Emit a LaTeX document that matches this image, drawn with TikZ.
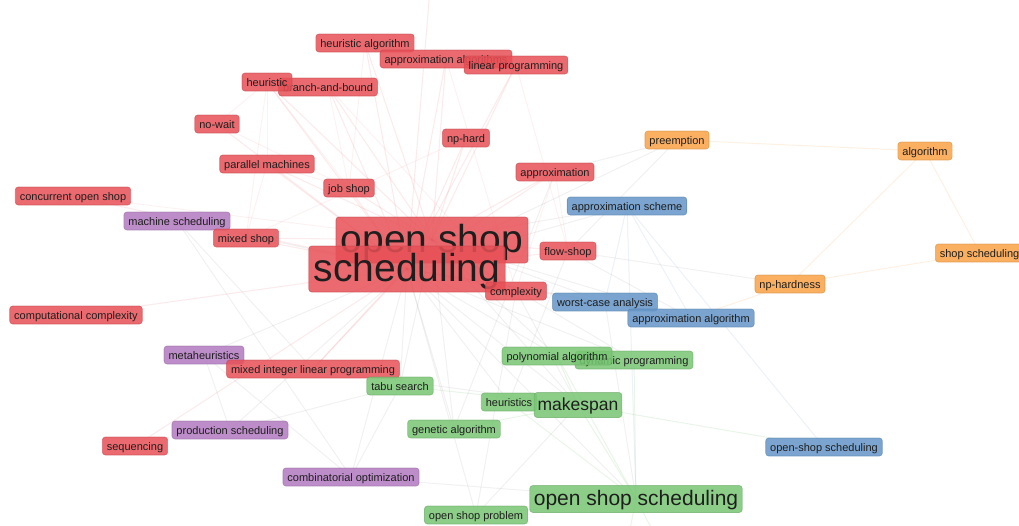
\documentclass[tikz,border=0pt]{standalone}
\usepackage{fontspec}
\setmainfont{Liberation Sans}
\definecolor{kred}{RGB}{232,80,86}
\definecolor{kgreen}{RGB}{120,198,115}
\definecolor{kblue}{RGB}{100,150,200}
\definecolor{korange}{RGB}{250,162,70}
\definecolor{kpurple}{RGB}{178,122,192}
\definecolor{ktext}{RGB}{30,30,30}
\begin{document}
\begin{tikzpicture}[x=1pt,y=-1pt,
  kw/.style={rounded corners=3pt, inner xsep=4.5pt, inner ysep=0pt,
    minimum height=18pt, text height=9.5pt, text depth=1.5pt,
    font=\fontsize{11}{12}\selectfont, text=ktext,
    fill opacity=0.85, text opacity=1, draw opacity=0.6, line width=0.7pt},
  rkw/.style={kw, fill=kred, draw=kred!85!black},
  gkw/.style={kw, fill=kgreen, draw=kgreen!85!black},
  bkw/.style={kw, fill=kblue, draw=kblue!85!black},
  okw/.style={kw, fill=korange, draw=korange!85!black},
  pkw/.style={kw, fill=kpurple, draw=kpurple!85!black},
  huge/.style={font=\fontsize{39}{40}\selectfont, text height=31pt, text depth=7pt, inner xsep=5pt, minimum height=46pt},
  big/.style={font=\fontsize{21}{22}\selectfont, text height=17pt, text depth=3.5pt, inner xsep=4pt, minimum height=27pt},
  mid/.style={font=\fontsize{17.5}{18}\selectfont, text height=14pt, text depth=3pt, inner xsep=3.5pt, minimum height=25pt},
  eR/.style={draw=kred, draw opacity=0.11, line width=1.1pt},
  eS/.style={draw=kred, draw opacity=0.08, line width=0.9pt},
  eG/.style={draw=gray, draw opacity=0.11, line width=1pt},
  eGr/.style={draw=kgreen, draw opacity=0.16, line width=1pt},
  eB/.style={draw=kblue, draw opacity=0.12, line width=1pt},
  eO/.style={draw=korange, draw opacity=0.15, line width=1pt}]

\fill[white] (0,0) rectangle (1019,525);
\useasboundingbox (0,0) rectangle (1019,525);
\clip (0,0) rectangle (1019,525);

% keyword positions (centres)
\coordinate (top) at (434,-60);
\coordinate (low1) at (612,620);
\coordinate (low2) at (700,620);

\path
  (365,43) coordinate (ha)   (446,59) coordinate (aas)  (516,65) coordinate (lp)
  (267,82) coordinate (heu)  (328,87) coordinate (bb)   (217,124) coordinate (nw)
  (466,138) coordinate (nph) (267,164) coordinate (pm)  (349,188) coordinate (js)
  (555,172) coordinate (apx) (73,196) coordinate (cos)  (177,221) coordinate (ms)
  (246,238) coordinate (mxs) (432,240) coordinate (os)  (407,269) coordinate (sch)
  (568,251) coordinate (fs)  (516,291) coordinate (cx)  (627,206) coordinate (aps)
  (677,140) coordinate (pre) (925,151) coordinate (alg) (980,253) coordinate (ss)
  (790,284) coordinate (nphs) (605,302) coordinate (wca) (691,318) coordinate (aa)
  (76,315) coordinate (cc)   (204,355) coordinate (mh)  (313,369) coordinate (milp)
  (400,386) coordinate (ts)  (557,356) coordinate (pa)  (634,360) coordinate (dp)
  (509,402) coordinate (hs)  (578,405) coordinate (mk)  (454,429) coordinate (ga)
  (230,430) coordinate (ps)  (135,446) coordinate (seq) (824,447) coordinate (oss2)
  (351,477) coordinate (co)  (636,499) coordinate (oss) (476,515) coordinate (osp);

% links inside the red cluster
\foreach \t in {heu,bb,ha,aas,lp,nw,pm,js,nph,apx,cos,mxs,fs,cx,cc,milp,seq,top}
  \draw[eR] (sch) -- (\t);
\foreach \t in {heu,bb,ha,aas,pm,js,nph,apx,mxs,fs,cx,milp,lp}
  \draw[eR] (os) -- (\t);
\foreach \a/\b in {heu/pm,heu/js,bb/js,nw/js,pm/js,nw/heu,nph/mxs,apx/fs,apx/cx,
                   bb/cx,ha/js,aas/cx,lp/fs,cos/os,pm/mxs,heu/mxs}
  \draw[eS] (\a) -- (\b);

% links between clusters
\foreach \t in {ms,mh,ps,co,ts,ga,hs,mk,pa,dp,oss,osp,wca,aa,aps}
  \draw[eG] (sch) -- (\t);
\foreach \t in {aps,wca,aa,mk,pa,dp,ts,ga}
  \draw[eG] (os) -- (\t);
\foreach \a/\b in {fs/nphs,ms/co,mh/co,mh/ps,ps/ts,co/oss,co/ts,osp/mk,
                   wca/oss,cx/mk,fs/hs,pre/apx,pre/sch,
                   milp/mk,cx/osp,ms/milp,fs/aa,apx/ga,pre/fs}
  \draw[eG] (\a) -- (\b);

% green, blue and orange links
\foreach \a/\b in {mk/oss,ts/mk,hs/oss,pa/oss,dp/oss,mk/oss2,ga/mk,pa/mk,
                   oss/low1,oss/low2,osp/oss}
  \draw[eGr] (\a) -- (\b);
\foreach \a/\b in {aps/aa,aps/wca,aps/oss,aps/oss2,wca/aa}
  \draw[eB] (\a) -- (\b);
\foreach \a/\b in {pre/alg,alg/nphs,alg/ss,nphs/ss,nphs/aa}
  \draw[eO] (\a) -- (\b);

% keywords
\node[rkw] (n-ha)   at (ha)  {heuristic algorithm};
\node[rkw] (n-aas)  at (aas) {approximation algorithms};
\node[rkw] (n-lp)   at (lp)  {linear programming};
\node[rkw] (n-bb)   at (bb)  {branch-and-bound};
\node[rkw] (n-heu)  at (heu) {heuristic};
\node[rkw] (n-nw)   at (nw)  {no-wait};
\node[rkw] (n-nph)  at (nph) {np-hard};
\node[rkw] (n-pm)   at (pm)  {parallel machines};
\node[rkw] (n-js)   at (js)  {job shop};
\node[rkw] (n-apx)  at (apx) {approximation};
\node[rkw] (n-cos)  at (cos) {concurrent open shop};
\node[pkw] (n-ms)   at (ms)  {machine scheduling};
\node[rkw] (n-mxs)  at (mxs) {mixed shop};
\node[bkw] (n-aps)  at (aps) {approximation scheme};
\node[okw] (n-pre)  at (pre) {preemption};
\node[okw] (n-alg)  at (alg) {algorithm};
\node[okw,anchor=west] (n-ss) at (935,253) {shop scheduling};
\node[okw] (n-nphs) at (nphs) {np-hardness};
\node[rkw,huge] (n-os)  at (os)  {open shop};
\node[rkw,huge] (n-sch) at (sch) {scheduling};
\node[rkw] (n-fs)   at (fs)  {flow-shop};
\node[rkw] (n-cx)   at (cx)  {complexity};
\node[bkw] (n-wca)  at (wca) {worst-case analysis};
\node[bkw] (n-aa)   at (aa)  {approximation algorithm};
\node[rkw] (n-cc)   at (cc)  {computational complexity};
\node[pkw] (n-mh)   at (mh)  {metaheuristics};
\node[rkw] (n-milp) at (milp) {mixed integer linear programming};
\node[gkw] (n-ts)   at (ts)  {tabu search};
\node[gkw] (n-dp)   at (dp)  {dynamic programming};
\node[gkw] (n-pa)   at (pa)  {polynomial algorithm};
\node[gkw] (n-hs)   at (hs)  {heuristics};
\node[gkw,mid] (n-mk) at (mk) {makespan};
\node[gkw] (n-ga)   at (ga)  {genetic algorithm};
\node[pkw] (n-ps)   at (ps)  {production scheduling};
\node[rkw] (n-seq)  at (seq) {sequencing};
\node[bkw] (n-oss2) at (oss2) {open-shop scheduling};
\node[pkw] (n-co)   at (co)  {combinatorial optimization};
\node[gkw,big] (n-oss) at (oss) {open shop scheduling};
\node[gkw] (n-osp)  at (osp) {open shop problem};
\end{tikzpicture}
\end{document}
